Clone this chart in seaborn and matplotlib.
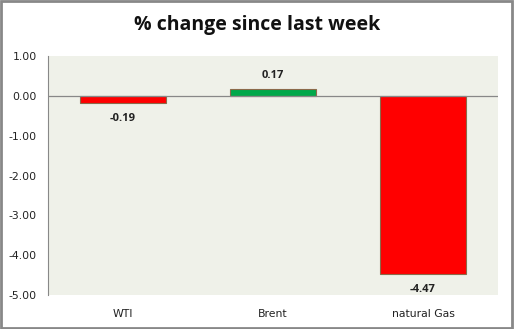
import matplotlib
matplotlib.use("Agg")
import matplotlib.pyplot as plt
import seaborn as sns
import pandas as pd
from matplotlib.patches import Rectangle

categories = ["WTI", "Brent", "natural Gas"]
values = [-0.19, 0.17, -4.47]
bar_colors = ["#FF0000", "#00A84A", "#FF0000"]
yticks = [1.0, 0.0, -1.0, -2.0, -3.0, -4.0, -5.0]

sns.set_style("white")
plt.rcParams['font.family'] = ['DejaVu Sans']

fig = plt.figure(figsize=(5.14, 3.29), dpi=100)
ax = fig.add_axes([48/514, 1-295/329, (498-48)/514, (295-56)/329])

df = pd.DataFrame({"cat": categories, "val": values})
sns.barplot(data=df, x="cat", y="val", hue="cat", palette=bar_colors,
            legend=False, width=0.57, ax=ax, edgecolor="#8B6A4A", linewidth=0.8,
            saturation=1)

ax.set_facecolor("#EFF1E9")
ax.set_ylim(-5, 1)
ax.set_xlim(-0.5, 2.5)
ax.set_yticks(yticks)
ax.set_yticklabels([f"{t:.2f}" for t in yticks], fontsize=7.8, color="#222222")
ax.set_xticks(range(len(categories)))
ax.set_xticklabels(categories, fontsize=7.8, color="#222222")
ax.tick_params(axis="x", length=0, pad=10)
ax.tick_params(axis="y", length=0, pad=8)
ax.set_xlabel("")
ax.set_ylabel("")
for s in ["top", "right", "bottom"]:
    ax.spines[s].set_visible(False)
ax.spines["left"].set_color("#888888")
ax.axhline(0, color="#888888", linewidth=0.9, zorder=1)

for i, v in enumerate(values):
    if v < 0:
        ax.annotate(f"{v:.2f}", (i, v), xytext=(0, -7), textcoords="offset points",
                    ha="center", va="top", fontsize=8, fontweight="bold",
                    family="Open Sans", color="#222222")
    else:
        ax.annotate(f"{v:.2f}", (i, v), xytext=(0, 6), textcoords="offset points",
                    ha="center", va="bottom", fontsize=8, fontweight="bold",
                    family="Open Sans", color="#222222")

fig.text(0.5, 1-25/329, "% change since last week", ha="center", va="center",
         fontsize=14, fontweight="bold", family="Open Sans", color="#111111")

fig.patches.append(Rectangle((0.002, 0.003), 0.994, 0.994, transform=fig.transFigure,
                             fill=False, edgecolor="#888888", linewidth=2))

fig.savefig("out.png", dpi=100)
